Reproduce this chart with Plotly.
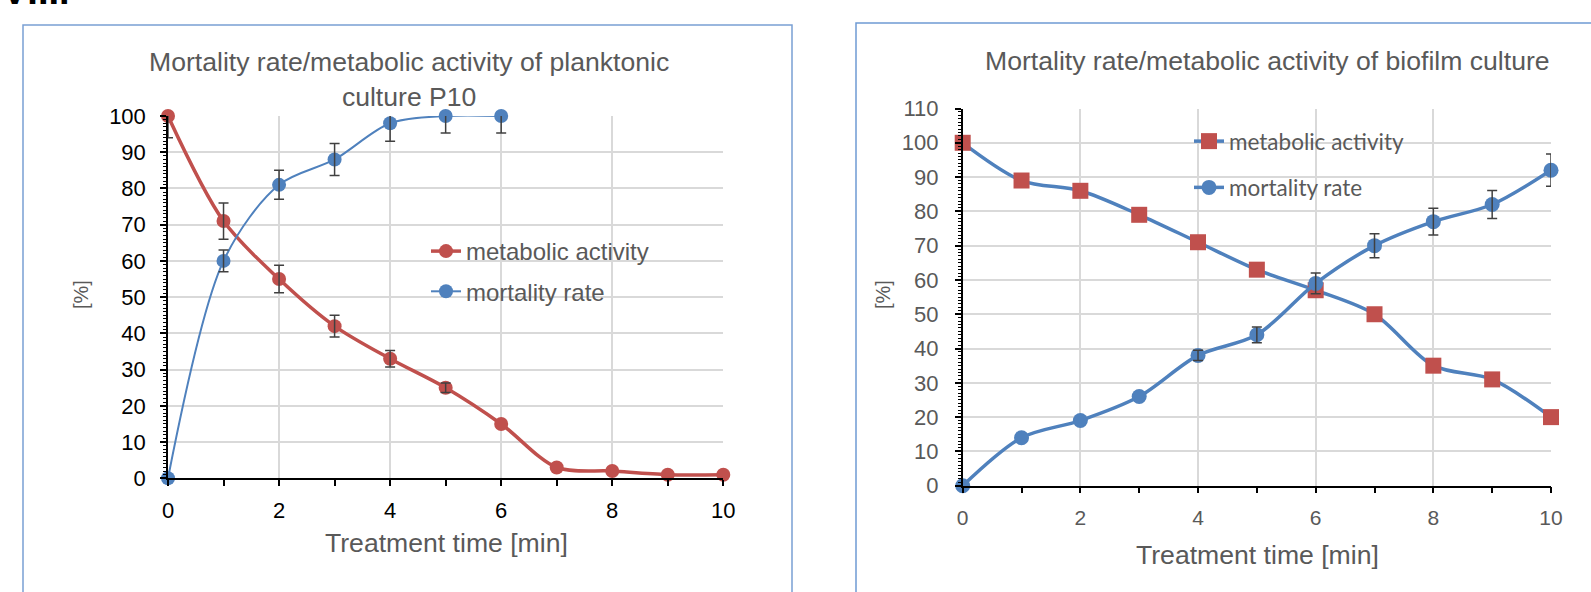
import plotly.graph_objects as go

# ---------------- data ----------------
time = [0, 1, 2, 3, 4, 5, 6, 7, 8, 9, 10]

# planktonic culture P10
plank_metabolic = [100, 71, 55, 42, 33, 25, 15, 3, 2, 1, 1]
plank_metabolic_err = [6, 5, 3.8, 3, 2.3, 1.3, 0, 0, 0, 0, 0]
plank_mort_time = [0, 1, 2, 3, 4, 5, 6]
plank_mortality = [0, 60, 81, 88, 98, 100, 100]
plank_mortality_err = [0, 3, 4, 4.4, 5, 4.7, 4.7]

# biofilm culture
bio_metabolic = [100, 89, 86, 79, 71, 63, 57, 50, 35, 31, 20]
bio_mortality = [0, 14, 19, 26, 38, 44, 59, 70, 77, 82, 92]
bio_mortality_err = [0, 0, 0, 0, 1.5, 2.3, 3, 3.5, 3.9, 4.1, 4.7]

x_ticks = [0, 2, 4, 6, 8, 10]

RED = "#C0504D"
BLUE = "#4F81BD"
GRID = "#D9D9D9"
GRAY_TXT = "#595959"
ERR = "#404040"
ARIAL = "Liberation Sans"

W, H = 1591, 592


def px(x):
    return x / W


def py(y):
    return 1 - y / H


def only_err(xs, ys, es):
    sel = [i for i, e in enumerate(es) if e > 0]
    return [xs[i] for i in sel], [ys[i] for i in sel], [es[i] for i in sel]


fig = go.Figure()

# ---------- left chart ----------
fig.add_trace(go.Scatter(
    x=time, y=plank_metabolic, name="metabolic activity", mode="lines+markers",
    line=dict(color=RED, width=3.5, shape="spline", smoothing=0.9),
    marker=dict(symbol="circle", size=14, color=RED),
    cliponaxis=False, xaxis="x", yaxis="y", legend="legend", legendgroup="a"))
fig.add_trace(go.Scatter(
    x=plank_mort_time, y=plank_mortality, name="mortality rate", mode="lines+markers",
    line=dict(color=BLUE, width=2, shape="spline", smoothing=0.9),
    marker=dict(symbol="circle", size=14, color=BLUE),
    cliponaxis=False, xaxis="x", yaxis="y", legend="legend", legendgroup="b"))

for xs, ys, es in [only_err(time, plank_metabolic, plank_metabolic_err),
                   only_err(plank_mort_time, plank_mortality, plank_mortality_err)]:
    fig.add_trace(go.Scatter(
        x=xs, y=ys, mode="markers", showlegend=False, hoverinfo="skip",
        marker=dict(size=1, color="rgba(0,0,0,0)"),
        error_y=dict(type="data", array=es, visible=True, color=ERR, thickness=1.5, width=5),
        cliponaxis=True, xaxis="x", yaxis="y"))

# ---------- right chart ----------
fig.add_trace(go.Scatter(
    x=time, y=bio_metabolic, name="metabolic activity", mode="lines+markers",
    line=dict(color=BLUE, width=3.5, shape="spline", smoothing=0.9),
    marker=dict(symbol="square", size=16, color=RED),
    cliponaxis=False, xaxis="x2", yaxis="y2", legend="legend2", legendgroup="c"))
fig.add_trace(go.Scatter(
    x=time, y=bio_mortality, name="mortality rate", mode="lines+markers",
    line=dict(color=BLUE, width=3.5, shape="spline", smoothing=0.9),
    marker=dict(symbol="circle", size=15, color=BLUE),
    cliponaxis=False, xaxis="x2", yaxis="y2", legend="legend2", legendgroup="d"))
xs, ys, es = only_err(time, bio_mortality, bio_mortality_err)
fig.add_trace(go.Scatter(
    x=xs, y=ys, mode="markers", showlegend=False, hoverinfo="skip",
    marker=dict(size=1, color="rgba(0,0,0,0)"),
    error_y=dict(type="data", array=es, visible=True, color=ERR, thickness=1.5, width=5),
    cliponaxis=True, xaxis="x2", yaxis="y2"))


def xaxis_style(domain, font_color, font_size):
    return dict(
        domain=domain, range=[0, 10], tickmode="array", tickvals=x_ticks,
        showgrid=True, gridcolor=GRID, gridwidth=1.5, zeroline=False,
        showline=True, linecolor="black", linewidth=1.5,
        ticks="outside", ticklen=6, tickwidth=1.5, tickcolor="black",
        minor=dict(dtick=1, tick0=0, ticks="outside", ticklen=6, tickwidth=1.5,
                   tickcolor="black", showgrid=False),
        tickfont=dict(family=ARIAL, size=font_size, color=font_color),
        ticklabelstandoff=6, fixedrange=True)


def yaxis_style(domain, top, font_color, font_size, anchor, standoff):
    return dict(
        domain=domain, range=[0, top], tickmode="linear", tick0=0, dtick=10,
        anchor=anchor,
        showgrid=True, gridcolor=GRID, gridwidth=1.5, zeroline=False,
        showline=True, linecolor="black", linewidth=1.5,
        ticks="outside", ticklen=6, tickwidth=1.5, tickcolor="black",
        minor=dict(dtick=1, tick0=0, ticks="outside", ticklen=3, tickwidth=1,
                   tickcolor="black", showgrid=False),
        tickfont=dict(family=ARIAL, size=font_size, color=font_color),
        ticklabelstandoff=standoff, fixedrange=True)


layout = dict(
    width=W, height=H, margin=dict(l=0, r=0, t=0, b=0, pad=0, autoexpand=False),
    paper_bgcolor="white", plot_bgcolor="white",
    xaxis=dict(xaxis_style([px(168), px(723.3)], "black", 22), anchor="y"),
    yaxis=yaxis_style([py(478.3), py(116)], 100, "black", 22, "x", 10),
    xaxis2=dict(xaxis_style([px(962.7), px(1551)], GRAY_TXT, 21), anchor="y2"),
    yaxis2=yaxis_style([py(485.7), py(108.5)], 110, GRAY_TXT, 22, "x2", 12),
    legend=dict(x=px(426), y=py(229), xanchor="left", yanchor="top",
                bgcolor="rgba(0,0,0,0)", tracegroupgap=6,
                font=dict(family=ARIAL, size=24, color=GRAY_TXT)),
    legend2=dict(x=px(1189), y=py(120), xanchor="left", yanchor="top",
                 bgcolor="rgba(0,0,0,0)", tracegroupgap=14,
                 font=dict(family="Lato", size=22.5, color=GRAY_TXT)),
    showlegend=True,
)
fig.update_layout(**layout)

# chart frames
fig.add_shape(type="rect", xref="paper", yref="paper",
              x0=px(23), x1=px(792), y0=py(620), y1=py(25),
              line=dict(color="#7AA0D4", width=1.5), fillcolor="rgba(0,0,0,0)", layer="below")
fig.add_shape(type="rect", xref="paper", yref="paper",
              x0=px(856), x1=px(1620), y0=py(620), y1=py(23),
              line=dict(color="#6F9AD3", width=1.5), fillcolor="rgba(0,0,0,0)", layer="below")

ann = [
    dict(text="Mortality rate/metabolic activity of planktonic<br>culture P10",
         x=px(409), y=py(79), size=26.6, color=GRAY_TXT),
    dict(text="Mortality rate/metabolic activity of biofilm culture",
         x=px(1267), y=py(61), size=26.6, color=GRAY_TXT),
    dict(text="Treatment time [min]", x=px(446), y=py(543), size=26.6, color=GRAY_TXT),
    dict(text="Treatment time [min]", x=px(1257), y=py(555), size=26.6, color=GRAY_TXT),
]
for a in ann:
    fig.add_annotation(text=a["text"], x=a["x"], y=a["y"], xref="paper", yref="paper",
                       xanchor="center", yanchor="middle", showarrow=False,
                       font=dict(family=ARIAL, size=a["size"], color=a["color"]))

for xx in (81, 883):
    fig.add_annotation(text="[%]", x=px(xx), y=py(295), xref="paper", yref="paper",
                       xanchor="center", yanchor="middle", showarrow=False, textangle=-90,
                       font=dict(family=ARIAL, size=20, color=GRAY_TXT))

# partially visible panel label at the very top
fig.add_annotation(text="<b>VIII.</b>", x=px(0), y=py(-9), xref="paper", yref="paper",
                   xanchor="left", yanchor="middle", showarrow=False,
                   font=dict(family=ARIAL, size=38, color="black"))

fig.write_html("out.html",
               config={"displayModeBar": False},
               post_script="document.body.style.margin='0px';"
                           "document.body.style.overflow='hidden';")
